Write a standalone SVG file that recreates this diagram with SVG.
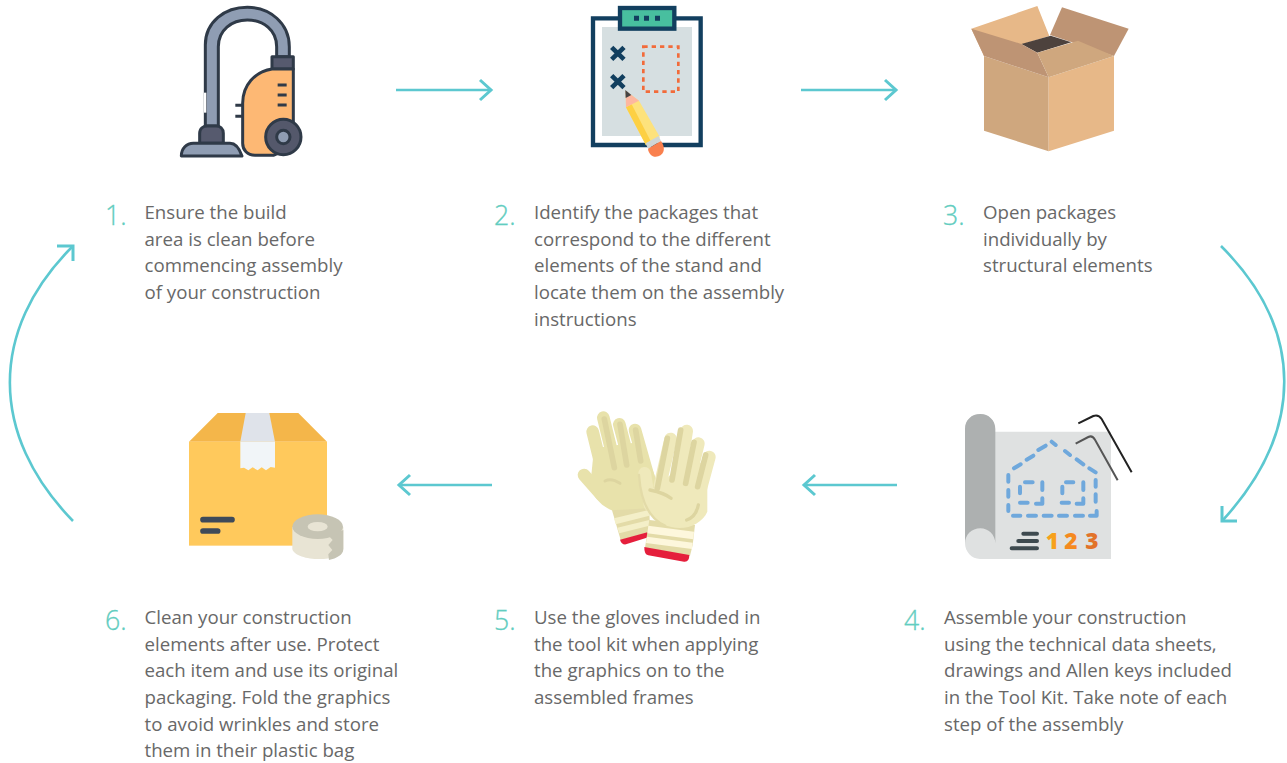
<svg xmlns="http://www.w3.org/2000/svg" width="1287" height="763" viewBox="0 0 1287 763">
<style>
.t{font-family:"Open Sans","Liberation Sans",sans-serif;font-size:18.67px;fill:#686868}
.n{font-family:"Open Sans","Liberation Sans",sans-serif;font-size:26.67px;font-weight:300;fill:#62cdc0;stroke:#62cdc0;stroke-width:.3}
.c{fill:none;stroke:#5cc8d0;stroke-width:2.6;stroke-linejoin:miter}
.h{fill:none;stroke:#5cc8d0;stroke-width:3}
.v{stroke:#2f3a48;stroke-width:9;stroke-linejoin:round}
.d{fill:none;stroke:#6fa8dc;stroke-width:12;stroke-linecap:round;stroke-linejoin:round}
</style>
<rect width="1287" height="763" fill="#fff"/>
<g id="connectors">
<path class="c" d="M396 90H490"/><path class="h" d="M480 80L491 90L480 100"/>
<path class="c" d="M801 90H895"/><path class="h" d="M885 80L896 90L885 100"/>
<path class="c" d="M897 485H805"/><path class="h" d="M815 475L804 485L815 495"/>
<path class="c" d="M492 485H400"/><path class="h" d="M410 475L399 485L410 495"/>
<path class="c" d="M1221 246C1305 330 1305 430 1223 520"/><path class="h" d="M1222 506V521H1237"/>
<path class="c" d="M73 521C-11 435 -11 330 72 247"/><path class="h" d="M57 246H73V261"/>
</g>
<g id="node1">
<g transform="translate(170 0) scale(.3333)">
<path class="v" fill="#8f9db3" d="M106 378V135C106 65 165 22 232 22C300 22 358 70 358 140V170H320V140C320 90 280 60 232 60C185 60 145 90 145 140V378Z"/>
<path d="M102 278h7v60h-7z" fill="#fff"/>
<path class="v" fill="#565a6e" d="M306 170H370V207H306Z"/>
<path class="v" fill="#fdb874" d="M306 207H370V440L310 466H255C232 466 218 450 218 430V310C218 255 255 215 306 207Z"/>
<path class="v" d="M323 255H350M323 285H350M323 315H350M196 316H218M196 349H218" fill="none" stroke-width="6"/>
<circle class="v" cx="340" cy="411" r="53" fill="#54586b"/>
<circle class="v" cx="340" cy="411" r="20" fill="#8f9db3"/>
<path class="v" fill="#565a6e" d="M89 430V400C89 385 100 378 112 378H138C150 378 160 385 160 400V430Z"/>
<path class="v" fill="#8f9db3" d="M34 468C34 445 50 430 70 430H180C198 430 208 445 216 468Z"/>
</g>
</g>
<g id="node2">
<g transform="translate(580 0) scale(.3333)">
<path d="M39 55H362V435H39Z" fill="#fff" stroke="#123f5f" stroke-width="13"/>
<rect x="66" y="81" width="270" height="327" fill="#d6dfe1"/>
<rect x="120" y="24" width="163" height="62" fill="#48bf9f" stroke="#123f5f" stroke-width="13"/>
<path d="M162 47h15v15h-15zM192 47h15v15h-15zM225 47h15v15h-15z" fill="#123f5f"/>
<path d="M95 142L132 178M132 142L95 178M95 227L132 263M132 227L95 263" stroke="#123f5f" stroke-width="14" fill="none"/>
<rect x="190" y="140" width="105" height="135" fill="none" stroke="#f26b3a" stroke-width="8" stroke-dasharray="13 12"/>
<path d="M137 272L177 302L240 412L198 436L138 322Z" fill="#fde27c"/>
<path d="M138 322L155 313L213 425L198 436Z" fill="#fdd043"/>
<path d="M137 272L177 302L138 322Z" fill="#fdb7a0"/>
<path d="M136 270L154 285L137 294Z" fill="#444"/>
<path d="M197 430L236 408L243 423L204 446Z" fill="#cfd6d6"/>
<path d="M204 446L243 423C256 440 255 462 235 469C218 474 206 462 204 446Z" fill="#f9804e"/>
</g>
</g>
<g id="node3">
<g transform="translate(960 0) scale(.3333)">
<path d="M266 232L72 168V392L266 454Z" fill="#cfa77e"/>
<path d="M266 232L462 168V392L266 454Z" fill="#e7b888"/>
<path d="M72 168L34 86L232 18L268 108Z" fill="#e7b888"/>
<path d="M306 22L506 86L462 168L270 105Z" fill="#be9474"/>
<path d="M184 132L272 107L334 127L232 158Z" fill="#4d423d"/>
<path d="M34 86L184 132L232 158L266 232L72 168Z" fill="#be9474"/>
<path d="M232 158L354 122L462 168L266 232Z" fill="#cfa77e"/>
</g>
</g>
<g id="node4">
<g transform="translate(955 405) scale(.3333)">
<path d="M120 80H468V462H75C50 462 30 440 30 415V72C30 45 50 27 76 27C100 27 120 45 120 72Z" fill="#dfe1e1"/>
<path d="M30 415V72C30 45 50 27 76 27C100 27 121 45 121 72V415C121 390 100 370 76 370C50 370 30 390 30 415Z" fill="#adb0b0"/>
<path class="d" d="M177 190L197 178M215 164L235 152M250 135L272 122M290 110L302 120M330 138L345 150M365 163L385 178M403 190L422 202M160 210V230M160 255V275M160 300V318M174 332H196M219 332H243M266 332H290M312 332H336M360 332H384M405 332H425V318M422 225V245M422 268V290M210 232H233M195 245V265M195 293H218M243 296H262V280M262 232V255M333 232H355M322 245V265M320 293H342M365 296H385V280M385 232V255"/>
<path d="M370 55L415 33Q430 27 440 42L530 202" fill="none" stroke="#222" stroke-width="6"/>
<path d="M362 116L400 96Q412 90 420 104L488 226" fill="none" stroke="#555" stroke-width="6"/>
<path d="M205 386H246M190 408H246M170 430H246" stroke="#3e4a4f" stroke-width="12" stroke-linecap="round"/>
<text x="272" y="431" font-family="'Open Sans','Liberation Sans',sans-serif" font-size="68" font-weight="800" fill="#f7a11b">1</text>
<text x="328" y="431" font-family="'Open Sans','Liberation Sans',sans-serif" font-size="68" font-weight="800" fill="#f58a1f">2</text>
<text x="391" y="431" font-family="'Open Sans','Liberation Sans',sans-serif" font-size="68" font-weight="800" fill="#e2732a">3</text>
</g>
</g>
<g id="node5">
<g transform="translate(570 405) scale(.3333)">
<path d="M125 312L238 305L240 382L152 405Z" fill="#e3dba8"/>
<path d="M132 340L236 315L238 332L137 358ZM142 368L238 345V362L148 385Z" fill="#f4efc8"/>
<path d="M150 404L235 381L235 397L168 418Q155 420 150 404Z" fill="#e51f3c"/>
<g stroke="#e8e2ab" stroke-width="38" stroke-linecap="round" fill="none">
<path d="M68 80L105 230M100 38L140 200M148 58L185 200M195 75L235 215M42 210L95 270"/>
</g>
<path d="M72 130L215 110L265 240L235 310L125 316C100 305 80 290 60 250Z" fill="#e8e2ab"/>
<path d="M103 42L133 188M150 58L170 180M197 75L212 168" stroke="#ddd5a0" stroke-width="17" stroke-linecap="round" fill="none"/>
<path d="M105 228C120 220 135 225 150 235" stroke="#ddd5a0" stroke-width="9" stroke-linecap="round" fill="none"/>
<path d="M238 345L375 360L368 420L360 452L225 428Z" fill="#e3dba8"/>
<path d="M235 362L372 380L370 403L232 385ZM231 395L368 413L366 432L228 414Z" fill="#fdf7dc"/>
<path d="M223 426L358 450Q358 472 342 470L235 451Q222 448 223 426Z" fill="#e51f3c"/>
<g stroke="#efe9bb" stroke-width="38" stroke-linecap="round" fill="none">
<path d="M302 102L270 240M350 78L325 240M385 116L355 240M418 156L390 260M224 205L240 300"/>
</g>
<path d="M262 240L340 180L412 170L412 320C395 360 335 385 280 358C240 335 222 300 222 270Z" fill="#efe9bb"/>
<path d="M292 100L262 250M332 75L306 225M372 112L347 235M407 150L383 245" stroke="#ddd5a0" stroke-width="17" stroke-linecap="round" fill="none"/>
<path d="M240 255C265 260 285 265 303 280M350 345C365 340 380 325 385 300" stroke="#ddd5a0" stroke-width="10" stroke-linecap="round" fill="none"/>
<path d="M207 210C212 285 235 340 285 362" stroke="#e3dba8" stroke-width="7" stroke-linecap="round" fill="none"/>
</g>
</g>
<g id="node6">
<g transform="translate(180 405) scale(.3333)">
<path d="M27 110L113 24H355L441 110Z" fill="#f4b64a"/>
<rect x="27" y="110" width="414" height="312" fill="#ffc95c"/>
<path d="M197 24H268L285 110H181Z" fill="#dfe3ea"/>
<path d="M181 110H285V188L272 186L258 196L245 187L233 196L218 187L205 196L192 188L181 190Z" fill="#f1f5f8"/>
<path d="M69 344H156M69 378H113" stroke="#3e4a59" stroke-width="17" stroke-linecap="round"/>
<path d="M337 366V432C345 470 485 475 490 432V366Z" fill="#e8e4d4"/>
<path d="M447 465L445 448L457 435L445 420L458 405L446 392L490 375V432C490 450 470 460 447 465Z" fill="#c6c4b4"/>
<ellipse cx="413" cy="365" rx="76" ry="37" fill="#c6c4b4"/>
<ellipse cx="413" cy="365" rx="30" ry="14" fill="#e8e4d4"/>
</g>
</g>
<g id="text1"><text class="n" x="105" y="225">1.</text>
<text class="t" x="144.500" y="219">Ensure the build</text><text class="t" x="144.500" y="246">area is clean before</text><text class="t" x="144.500" y="272">commencing assembly</text><text class="t" x="144.500" y="299">of your construction</text></g>
<g id="text2"><text class="n" x="494" y="225">2.</text>
<text class="t" x="534" y="219">Identify the packages that</text><text class="t" x="534" y="246">correspond to the different</text><text class="t" x="534" y="272">elements of the stand and</text><text class="t" x="534" y="299">locate them on the assembly</text><text class="t" x="534" y="326">instructions</text></g>
<g id="text3"><text class="n" x="943" y="225">3.</text>
<text class="t" x="983" y="219">Open packages</text><text class="t" x="983" y="246">individually by</text><text class="t" x="983" y="272">structural elements</text></g>
<g id="text4"><text class="n" x="904" y="630">4.</text>
<text class="t" x="944" y="624">Assemble your construction</text><text class="t" x="944" y="651">using the technical data sheets,</text><text class="t" x="944" y="677">drawings and Allen keys included</text><text class="t" x="944" y="704">in the Tool Kit. Take note of each</text><text class="t" x="944" y="731">step of the assembly</text></g>
<g id="text5"><text class="n" x="494" y="630">5.</text>
<text class="t" x="534" y="624">Use the gloves included in</text><text class="t" x="534" y="651">the tool kit when applying</text><text class="t" x="534" y="677">the graphics on to the</text><text class="t" x="534" y="704">assembled frames</text></g>
<g id="text6"><text class="n" x="105" y="630">6.</text>
<text class="t" x="144.500" y="624">Clean your construction</text><text class="t" x="144.500" y="651">elements after use. Protect</text><text class="t" x="144.500" y="677">each item and use its original</text><text class="t" x="144.500" y="704">packaging. Fold the graphics</text><text class="t" x="144.500" y="731">to avoid wrinkles and store</text><text class="t" x="144.500" y="757">them in their plastic bag</text></g>
</svg>
